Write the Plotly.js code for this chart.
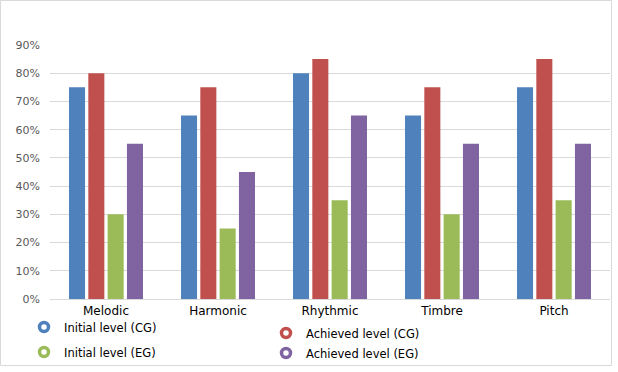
<!DOCTYPE html>
<html>
<head>
<meta charset="utf-8">
<script src="https://cdn.plot.ly/plotly-3.0.1.min.js"></script>
<style>html,body{margin:0;padding:0;background:#fff;}#chart{width:618px;height:372px;}</style>
</head>
<body>
<div id="chart"></div>
<script>
const categories = ["Melodic", "Harmonic", "Rhythmic", "Timbre", "Pitch"];
const initialCG = [0.75, 0.65, 0.80, 0.65, 0.75];
const achievedCG = [0.80, 0.75, 0.85, 0.75, 0.85];
const initialEG = [0.30, 0.25, 0.35, 0.30, 0.35];
const achievedEG = [0.55, 0.45, 0.65, 0.55, 0.55];
const seriesNames = ["Initial level (CG)", "Achieved level (CG)", "Initial level (EG)", "Achieved level (EG)"];
const yTicks = [0, 0.1, 0.2, 0.3, 0.4, 0.5, 0.6, 0.7, 0.8, 0.9];

const colors = ["#4f81bd", "#c0504d", "#9bbb59", "#8064a2"];
const seriesValues = [initialCG, achievedCG, initialEG, achievedEG];

const W = 618, H = 372;
const M = {l: 50, r: 8, t: 45, b: 73, autoexpand: false};
const pw = W - M.l - M.r, ph = H - M.t - M.b;
const px = x => (x - M.l) / pw;
const py = y => (H - M.b - y) / ph;

const traces = [];
seriesValues.forEach((vals, i) => {
  traces.push({
    type: "bar", x: categories, y: vals, name: seriesNames[i],
    marker: {color: colors[i]}, showlegend: false, hoverinfo: "x+y"
  });
});
// legend-only entries with ring markers (pixel positions of each entry's left edge / centre line)
const legendPos = [
  {x: 24, y: 327}, {x: 266, y: 333}, {x: 24, y: 352}, {x: 266, y: 353}
];
const legendKeys = ["legend", "legend2", "legend3", "legend4"];
seriesNames.forEach((n, i) => {
  traces.push({
    type: "scatter", mode: "markers", x: [null], y: [null], name: n,
    marker: {symbol: "circle-open", size: 9, color: colors[i], line: {width: 3.5, color: colors[i]}},
    legend: legendKeys[i], showlegend: true
  });
});

const layout = {
  width: W, height: H,
  margin: M,
  paper_bgcolor: "#ffffff", plot_bgcolor: "#ffffff",
  barmode: "group", bargap: 0.31, bargroupgap: 0.17,
  font: {family: "DejaVu Sans, Verdana, sans-serif", size: 11, color: "#000"},
  xaxis: {
    type: "category", showgrid: false, zeroline: false, showline: false,
    ticks: "", tickfont: {size: 12, color: "#000"}, ticklabelstandoff: 3,
    automargin: false, tickangle: 0
  },
  yaxis: {
    range: [0, 0.9], tickvals: yTicks, tickformat: ".0%",
    showgrid: true, gridcolor: "#d9d9d9", gridwidth: 1,
    zeroline: true, zerolinecolor: "#d9d9d9", zerolinewidth: 1,
    showline: false, ticks: "", tickfont: {size: 11, color: "#595959"},
    ticklabelstandoff: 9, fixedrange: true, automargin: false
  },
  shapes: [{
    type: "rect", xref: "paper", yref: "paper",
    x0: px(0.5), x1: px(611.5), y0: py(365.5), y1: py(0.5),
    line: {color: "#d9d9d9", width: 1}, fillcolor: "rgba(0,0,0,0)", layer: "below"
  }]
};
legendKeys.forEach((k, i) => {
  layout[k] = {
    x: px(legendPos[i].x), y: py(legendPos[i].y), xanchor: "left", yanchor: "middle",
    xref: "paper", yref: "paper",
    bgcolor: "rgba(0,0,0,0)", borderwidth: 0,
    font: {size: 11.5, color: "#000", family: "DejaVu Sans, Verdana, sans-serif"},
    itemwidth: 30, tracegroupgap: 0
  };
});

Plotly.newPlot("chart", traces, layout, {displayModeBar: false, staticPlot: true});
</script>
</body>
</html>
